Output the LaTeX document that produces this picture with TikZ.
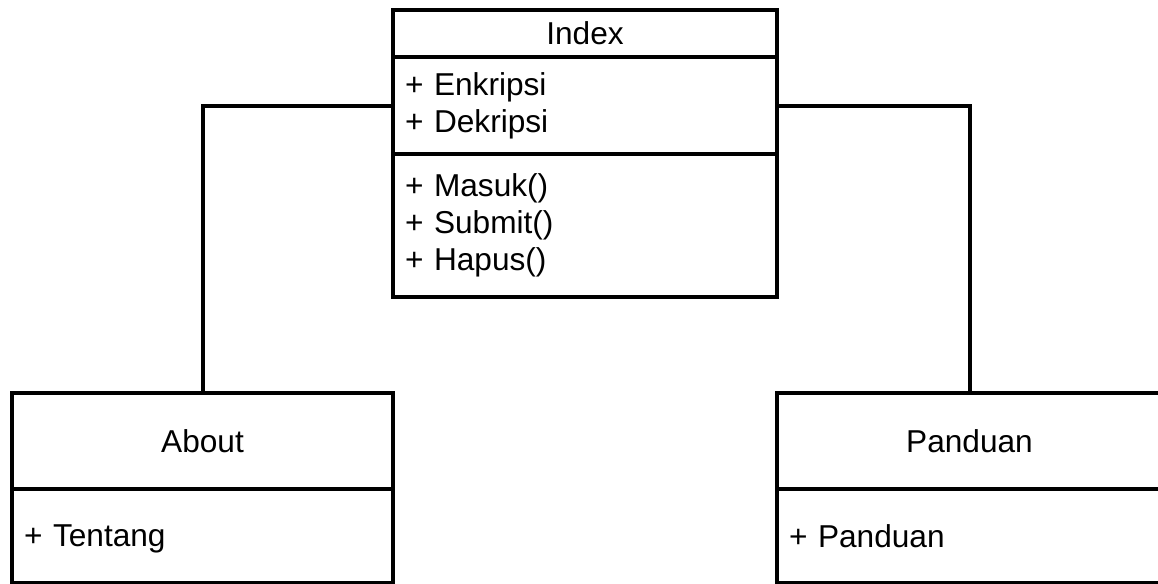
\documentclass[tikz,border=0pt]{standalone}
\usepackage{fontspec}
\setmainfont{Liberation Sans}
\usetikzlibrary{positioning}
\tikzset{
  umlhead/.style={draw, rectangle, outer sep=0pt, inner sep=0pt, align=center},
  umlpart/.style={draw, rectangle, outer sep=0pt, inner xsep=0.3cm, inner ysep=0pt, align=left},
}
\begin{document}
\begin{tikzpicture}[line width=0.1cm, font=\fontsize{22.5}{26.2}\selectfont]
  \useasboundingbox (0,0) rectangle (28.95,-14.575);

  % Kelas Index
  \node[umlhead, minimum width=9.6cm, minimum height=1.175cm] (indexhead) at (14.625,-0.8375) {Index};
  \node[umlpart, text width=9.0cm, minimum height=2.425cm, below=0pt of indexhead] (indexattr) {+ Enkripsi\\+ Dekripsi};
  \node[umlpart, text width=9.0cm, minimum height=3.575cm, below=0pt of indexattr] (indexmeth) {+ Masuk()\\+ Submit()\\+ Hapus()};

  % Kelas About
  \node[umlhead, minimum width=9.525cm, minimum height=2.4cm] (abouthead) at (5.0625,-11.025) {About};
  \node[umlpart, text width=8.925cm, text depth=0pt, minimum height=2.35cm, below=0pt of abouthead] (aboutattr) {+ Tentang};

  % Kelas Panduan
  \node[umlhead, minimum width=9.625cm, minimum height=2.4cm] (panduanhead) at (24.2375,-11.025) {Panduan};
  \node[umlpart, text width=9.025cm, text depth=0pt, minimum height=2.35cm, below=0pt of panduanhead] (panduanattr) {+ Panduan};

  % Relasi
  \draw (indexattr.west) -| (abouthead.north);
  \draw (indexattr.east) -| (panduanhead.north);
\end{tikzpicture}
\end{document}
